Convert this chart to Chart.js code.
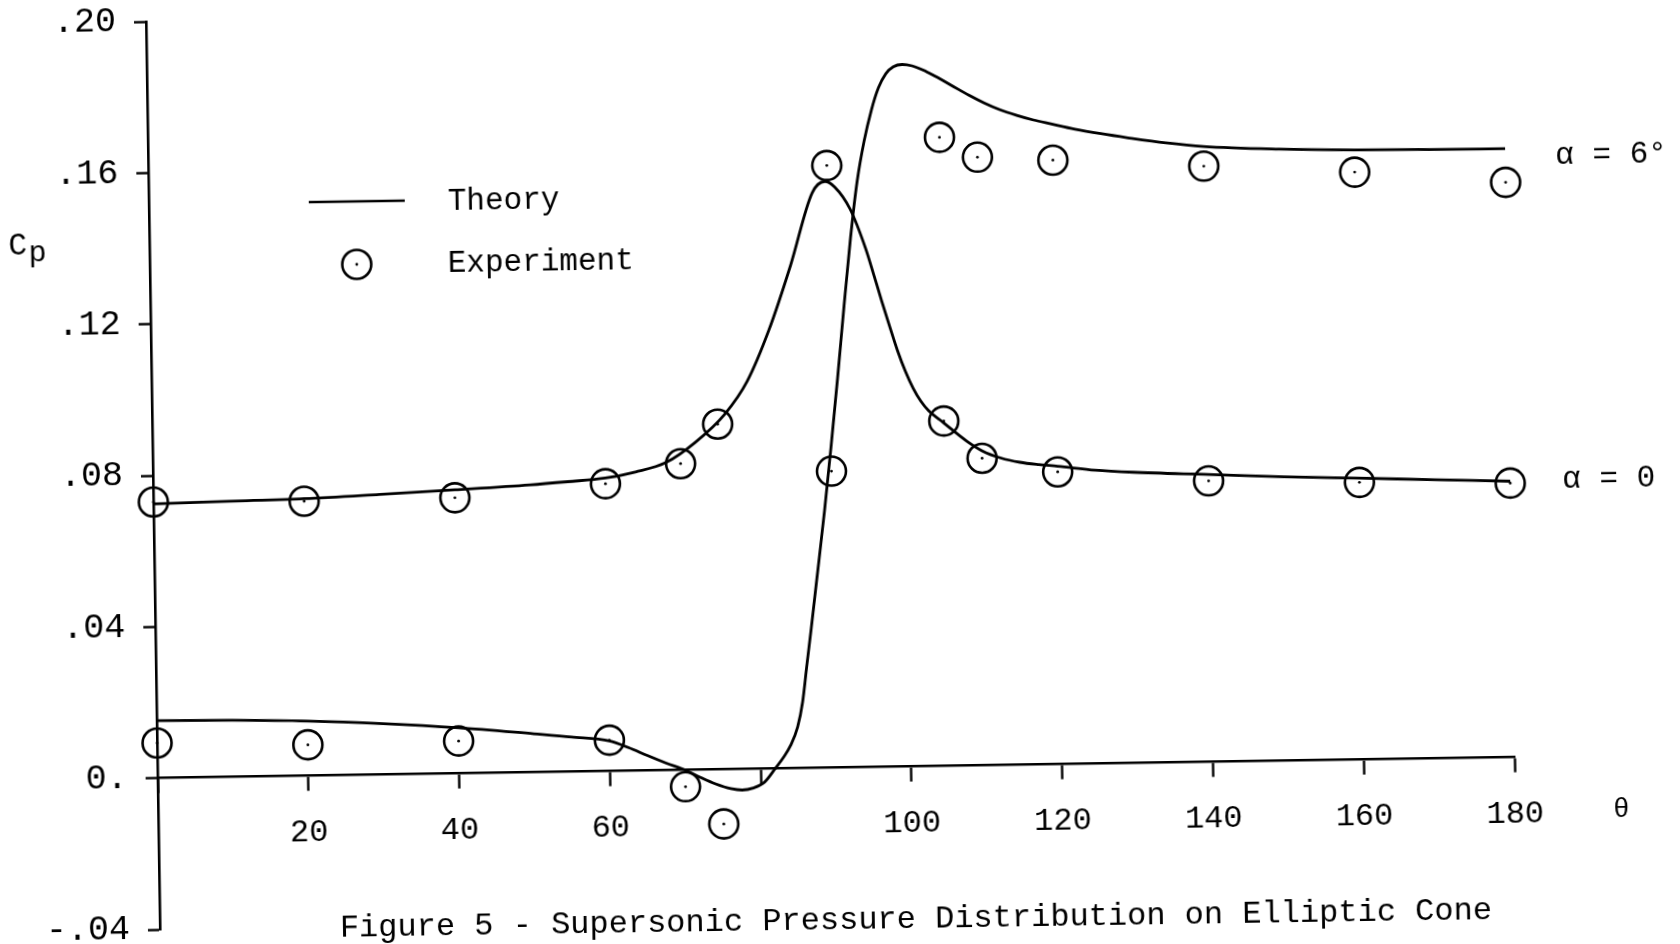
<!DOCTYPE html>
<html><head><meta charset="utf-8">
<script src="https://cdn.jsdelivr.net/npm/chart.js@4/dist/chart.umd.min.js"></script>
<style>
html,body{margin:0;padding:0;background:#fff;overflow:hidden;width:1680px;height:944px;}
#wrap{position:absolute;left:0;top:-28px;width:1680px;height:1000px;transform:rotate(-0.88deg);transform-origin:840px 500px;}
canvas{display:block;}
</style></head><body>
<div id="wrap"><canvas id="c" width="1680" height="1000"></canvas></div>
<script>
// ---- data ----
const thetaExp = [0, 20, 40, 60, 70, 75, 90, 105, 110, 120, 140, 160, 180];
const cpExpAlpha0 = [0.0730, 0.0726, 0.0729, 0.0760, 0.0810, 0.0913, 0.1592, 0.0912, 0.0812, 0.0773, 0.0743, 0.0733, 0.0725];
const cpExpAlpha6 = [0.0093, 0.0082, 0.0086, 0.0082, -0.0044, -0.0144, 0.0784, 0.1662, 0.1608, 0.1597, 0.1575, 0.1553, 0.1520];

const thetaTheory0 = [0, 10, 20, 30, 40, 50, 55, 60, 64, 68, 72, 76, 79, 82, 85, 88, 89.7, 91, 93, 95, 96, 97, 98, 99, 100, 101, 102, 103, 104.5, 106, 108, 110, 112.5, 115, 117.5, 120, 125, 130, 140, 150, 160, 170, 180];
const cpTheory0 = [0.0725, 0.0729, 0.0733, 0.0741, 0.0750, 0.0760, 0.0767, 0.0775, 0.0790, 0.0813, 0.0866, 0.0940, 0.1025, 0.1160, 0.1330, 0.1520, 0.1550, 0.1535, 0.1476, 0.1370, 0.1302, 0.1232, 0.1165, 0.1100, 0.1045, 0.1000, 0.0965, 0.0940, 0.0915, 0.0890, 0.0858, 0.0832, 0.0812, 0.0800, 0.0793, 0.0788, 0.0776, 0.0769, 0.0760, 0.0751, 0.0744, 0.0737, 0.0730];

const thetaTheory6 = [0, 10, 20, 30, 40, 50, 55, 60, 62.5, 65, 67.5, 70, 72, 74, 76, 77.5, 79, 80.5, 82, 83, 84, 85, 85.7, 86.3, 87, 87.8, 89, 90, 91, 92, 93, 94, 95, 96, 97, 98, 99, 100.2, 101.5, 103, 104.5, 106.6, 109, 111, 113, 115.3, 117.5, 119.8, 123, 126.4, 130, 135, 140, 150, 160, 170, 180];
const cpTheory6 = [0.0152, 0.0150, 0.0145, 0.0135, 0.0121, 0.0102, 0.0092, 0.0080, 0.0062, 0.0040, 0.0019, 0.0000, -0.0020, -0.0038, -0.0051, -0.0055, -0.0050, -0.0035, 0.0002, 0.0028, 0.0060, 0.0110, 0.0175, 0.0266, 0.0370, 0.0494, 0.0680, 0.0850, 0.1030, 0.1220, 0.1400, 0.1550, 0.1655, 0.1735, 0.1795, 0.1832, 0.1850, 0.1856, 0.1852, 0.1840, 0.1824, 0.1800, 0.1772, 0.1751, 0.1733, 0.1717, 0.1704, 0.1693, 0.1678, 0.1665, 0.1653, 0.1638, 0.1627, 0.1617, 0.1612, 0.1610, 0.1609];

const xTickValues = [0, 20, 40, 60, 80, 100, 120, 140, 160, 180];
const xTickLabels = ['', '20', '40', '60', '', '100', '120', '140', '160', '180'];
const yTickValues = [-0.04, 0, 0.04, 0.08, 0.12, 0.16, 0.20];
const yTickLabels = ['-.04', '0.', '.04', '.08', '.12', '.16', '.20'];

const seriesLabels = ['\u03b1 = 6\u00b0', '\u03b1 = 0'];
const legendLabels = ['Theory', 'Experiment'];
const titleText = 'Figure 5 - Supersonic Pressure Distribution on Elliptic Cone';
const xAxisTitle = '\u03b8';
const yAxisTitleMain = 'C';
const yAxisTitleSub = 'p';

// ---- build datasets ----
const pts = (xs, ys) => xs.map((x, i) => ({x: x, y: ys[i]}));
const INK = '#000';
const FONT = '"Liberation Mono", "DejaVu Sans Mono", monospace';

const theoryStyle = {showLine: true, pointRadius: 0, borderColor: INK, borderWidth: 2.8,
  cubicInterpolationMode: 'monotone', fill: false, clip: false};
const expStyle = {showLine: false, pointRadius: 14.5, pointBorderWidth: 2.6, pointBorderColor: INK,
  pointBackgroundColor: 'rgba(0,0,0,0)', pointHoverRadius: 14.5, clip: false};
const dotStyle = {showLine: false, pointRadius: 1.4, pointBorderWidth: 0, pointBackgroundColor: INK, clip: false};

const datasets = [
  Object.assign({label: 'theory0', data: pts(thetaTheory0, cpTheory0)}, theoryStyle),
  Object.assign({label: 'theory6', data: pts(thetaTheory6, cpTheory6)}, theoryStyle),
  Object.assign({label: 'exp0', data: pts(thetaExp, cpExpAlpha0)}, expStyle),
  Object.assign({label: 'exp6', data: pts(thetaExp, cpExpAlpha6)}, expStyle),
  Object.assign({label: 'dot0', data: pts(thetaExp, cpExpAlpha0)}, dotStyle),
  Object.assign({label: 'dot6', data: pts(thetaExp, cpExpAlpha6)}, dotStyle)
];

// ---- annotation plugin (texts & legend) ----
const annotations = {
  id: 'annotations',
  afterDraw(chart) {
    const ctx = chart.ctx;
    ctx.save();
    ctx.fillStyle = INK;
    ctx.strokeStyle = INK;
    ctx.textBaseline = 'middle';
    ctx.textAlign = 'left';
    ctx.font = '31px ' + FONT;
    // legend
    ctx.lineWidth = 2.6;
    ctx.beginPath(); ctx.moveTo(313, 222); ctx.lineTo(409, 222); ctx.stroke();
    ctx.fillText(legendLabels[0], 452, 224);
    ctx.beginPath(); ctx.arc(360, 285, 14.5, 0, Math.PI * 2); ctx.stroke();
    ctx.beginPath(); ctx.arc(360, 285, 1.4, 0, Math.PI * 2); ctx.fill();
    ctx.fillText(legendLabels[1], 451, 286);
    // series labels at right end of curves
    ctx.fillText(seriesLabels[0], 1560, 195);
    ctx.fillText(seriesLabels[1], 1562, 519);
    // axis titles
    ctx.textBaseline = 'alphabetic';
    ctx.font = '31px ' + FONT;
    ctx.fillText(yAxisTitleMain, 12, 270);
    ctx.font = '30px ' + FONT;
    ctx.fillText(yAxisTitleSub, 32, 277);
    ctx.textBaseline = 'middle';
    ctx.textAlign = 'center';
    ctx.font = '27px ' + FONT;
    ctx.fillText(xAxisTitle, 1616, 850);
    // figure caption
    ctx.font = '32px ' + FONT;
    ctx.fillText(titleText, 909, 949);
    ctx.restore();
  }
};

new Chart(document.getElementById('c'), {
  type: 'line',
  data: {datasets: datasets},
  options: {
    responsive: false,
    animation: false,
    events: [],
    layout: {padding: {left: 0, right: 170, top: 37, bottom: 53}},
    plugins: {legend: {display: false}, tooltip: {enabled: false}, title: {display: false}},
    scales: {
      x: {
        type: 'linear',
        min: 0, max: 180,
        position: {y: 0},
        afterBuildTicks: (s) => { s.ticks = xTickValues.map(v => ({value: v})); },
        ticks: {
          color: INK, padding: 24, maxRotation: 0, autoSkip: false,
          font: {family: FONT, size: 32},
          callback: (v) => { const i = xTickValues.indexOf(v); return i >= 0 ? xTickLabels[i] : ''; }
        },
        grid: {display: true, drawOnChartArea: false, drawTicks: true, tickLength: 14, tickWidth: 2.4, tickColor: INK},
        border: {display: true, color: INK, width: 2.6}
      },
      y: {
        type: 'linear',
        min: -0.04, max: 0.20,
        position: 'left',
        afterFit: (s) => { s.width = 153; },
        afterBuildTicks: (s) => { s.ticks = yTickValues.map(v => ({value: v})); },
        ticks: {
          color: INK, padding: 18,
          font: {family: FONT, size: 35},
          callback: (v) => {
            const i = yTickValues.findIndex(t => Math.abs(t - v) < 1e-9);
            return i >= 0 ? yTickLabels[i] : '';
          }
        },
        grid: {display: true, drawOnChartArea: false, drawTicks: true, tickLength: 12, tickWidth: 2.4, tickColor: INK},
        border: {display: true, color: INK, width: 2.6}
      }
    }
  },
  plugins: [annotations]
});
</script>
</body></html>
